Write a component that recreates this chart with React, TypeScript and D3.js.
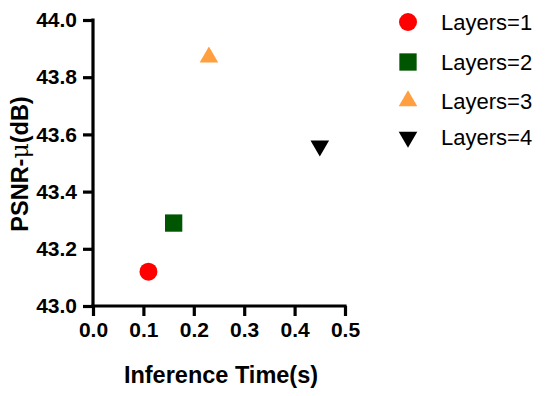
import * as React from 'react';
import * as d3 from 'd3';

const series = ['Layers=1', 'Layers=2', 'Layers=3', 'Layers=4'];
const times = [0.11, 0.16, 0.23, 0.45];
const psnr = [43.12, 43.29, 43.87, 43.56];
const colors = ['#ff0000', '#005500', '#ff9f40', '#000000'];
const shapes = [d3.symbolCircle, d3.symbolSquare, d3.symbolTriangle, d3.symbolTriangle];
const xTicks = [0, 0.1, 0.2, 0.3, 0.4, 0.5];
const yTicks = [43.0, 43.2, 43.4, 43.6, 43.8, 44.0];

const W = 550, H = 396;
const left = 93, right = 345, top = 20, bottom = 306;
const font = 'Liberation Sans, Arial, sans-serif';

export default function App() {
  const xRef = React.useRef<SVGGElement>(null);
  const yRef = React.useRef<SVGGElement>(null);

  const x = d3.scaleLinear().domain([0, 0.5]).range([left, right]);
  const y = d3.scaleLinear().domain([43, 44]).range([bottom, top]);

  React.useEffect(() => {
    const xAxis = d3.axisBottom(x).tickValues(xTicks).tickFormat(d3.format('.1f')).tickSize(10).tickPadding(6);
    const yAxis = d3.axisLeft(y).tickValues(yTicks).tickFormat(d3.format('.1f')).tickSize(10).tickPadding(6);
    const style = (g: any) => {
      g.attr('stroke-width', 3.2);
      g.selectAll('path.domain').attr('stroke-width', 3.2).attr('stroke', '#000');
      g.selectAll('.tick line').attr('stroke-width', 3.2).attr('stroke', '#000');
      g.selectAll('.tick text')
        .attr('stroke', 'none')
        .style('font-family', font)
        .style('font-weight', 'bold')
        .style('font-size', '21px')
        .style('fill', '#000');
    };
    d3.select(xRef.current!).call(xAxis as any).call(style)
      .call((g: any) => g.select('.domain').attr('d', `M${left - 1.6},0H${right + 1.6}`));
    d3.select(yRef.current!).call(yAxis as any).call(style)
      .call((g: any) => g.select('.domain').attr('d', `M0,${bottom + 1.6}V${top - 1.6}`));
  }, []);

  const sym = (i: number, size: number) => d3.symbol().type(shapes[i]).size(size)()!;
  const sizes = [254, 300, 150, 150];
  const rot = (i: number) => (i === 3 ? ' rotate(180)' : '');

  return (
    <svg width={W} height={H} style={{ position: 'absolute', left: 0, top: 0 }}>
      <rect width={W} height={H} fill="#fff" />
      <g ref={xRef} transform={`translate(0,${bottom})`} />
      <g ref={yRef} transform={`translate(${left},0)`} />
      {series.map((s, i) => (
        <path key={s} d={sym(i, sizes[i])} fill={colors[i]}
          transform={`translate(${x(times[i])},${y(psnr[i])})${rot(i)}`} />
      ))}
      <text x={221} y={383} textAnchor="middle" fontFamily={font} fontWeight="bold" fontSize={23.5}>
        Inference Time(s)
      </text>
      <text transform={`translate(28,164) rotate(-90)`} textAnchor="middle"
        fontFamily={font} fontWeight="bold" fontSize={23.5}>
        PSNR-<tspan fontWeight="normal" fontFamily="DejaVu Serif, serif">μ</tspan>(dB)
      </text>
      {series.map((s, i) => {
        const ly = [22, 62, 101, 137][i];
        return (
          <g key={'l' + s}>
            <path d={sym(i, sizes[i])} fill={colors[i]} transform={`translate(408,${ly})${rot(i)}`} />
            <text x={441} y={ly + 7.5} fontFamily={font} fontSize={22}>{s}</text>
          </g>
        );
      })}
    </svg>
  );
}
